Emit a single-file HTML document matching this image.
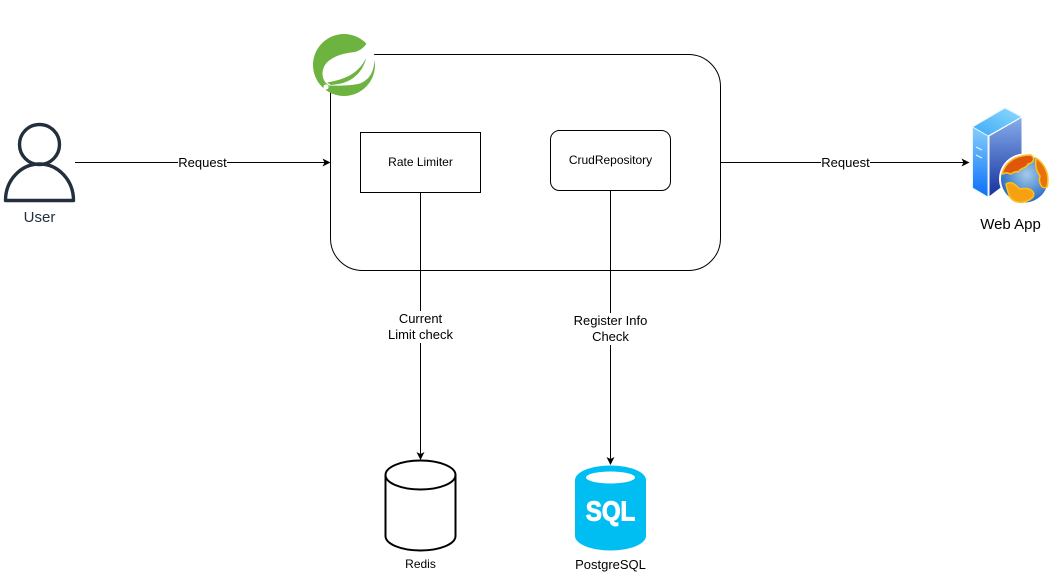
<!DOCTYPE html>
<html>
<head>
<meta charset="utf-8">
<style>
html,body{margin:0;padding:0;background:#fff;width:1050px;height:573px;overflow:hidden}
svg{display:block}
text{font-family:"Liberation Sans",Arial,sans-serif;fill:#000;text-anchor:middle}
</style>
</head>
<body>
<svg width="1050" height="573" viewBox="0 0 1050 573" xmlns="http://www.w3.org/2000/svg">
<defs>
<linearGradient id="front" x1="0" y1="0" x2="0" y2="1"><stop offset="0" stop-color="#86cffb"/><stop offset="1" stop-color="#0a6ffb"/></linearGradient>
<linearGradient id="side" x1="0" y1="0" x2="0" y2="1"><stop offset="0" stop-color="#86aeea"/><stop offset="1" stop-color="#16309f"/></linearGradient>
<linearGradient id="top" x1="0" y1="1" x2="1" y2="0"><stop offset="0" stop-color="#3aa8f8"/><stop offset="1" stop-color="#8fdcfb"/></linearGradient>
<radialGradient id="sea" cx="0.55" cy="0.4" r="0.65"><stop offset="0" stop-color="#a4cbe8"/><stop offset="1" stop-color="#1a62c2"/></radialGradient>
</defs>

<!-- main container -->
<rect x="330.5" y="54.5" width="390" height="216" rx="32" ry="32" fill="#fff" stroke="#000" stroke-width="1"/>

<!-- inner boxes -->
<rect x="360.5" y="132.5" width="120" height="60" fill="#fff" stroke="#000"/>
<text x="420.5" y="166" font-size="12">Rate Limiter</text>
<rect x="550.5" y="130.5" width="120" height="60" rx="9" ry="9" fill="#fff" stroke="#000"/>
<text x="610.5" y="164" font-size="12">CrudRepository</text>

<!-- connectors -->
<path d="M75 162.5H325" stroke="#000" fill="none"/>
<path d="M330.500 162.500L322.500 166.500L324.500 162.500L322.500 158.500Z" fill="#000"/>
<rect x="178" y="155" width="49" height="15" fill="#fff"/>
<text x="202.500" y="167" font-size="13">Request</text>

<path d="M720.500 162.500H964" stroke="#000" fill="none"/>
<path d="M969.500 162.500L961.500 166.500L963.500 162.500L961.500 158.500Z" fill="#000"/>
<rect x="821" y="155" width="49" height="15" fill="#fff"/>
<text x="845.500" y="167" font-size="13">Request</text>

<path d="M420.500 192.500V454" stroke="#000" fill="none"/>
<path d="M420.500 460L416.500 452L420.500 454L424.500 452Z" fill="#000"/>
<rect x="388" y="311" width="65" height="32" fill="#fff"/>
<text x="420.500" y="323" font-size="13">Current</text>
<text x="420.500" y="339" font-size="13">Limit check</text>

<path d="M610.500 190.500V459" stroke="#000" fill="none"/>
<path d="M610.500 465L606.500 457L610.500 459L614.500 457Z" fill="#000"/>
<rect x="574" y="313" width="73" height="32" fill="#fff"/>
<text x="610.500" y="325" font-size="13">Register Info</text>
<text x="610.500" y="341" font-size="13">Check</text>

<!-- spring logo -->
<circle cx="344" cy="65" r="31" fill="#6db33f"/>
<path d="M369 38C371 45 375 52 374.500 60C374 72 369 80 360 83.500C352 85.500 340 86 329 85.500L326 83C321 77 322 70 325 65C331 56 345 53 355 52C362 50 367 45 369 38Z" fill="#fff"/>
<path d="M327 82.500C342 80 358 75 366 58C364 68 357 77 348 81C343 83.500 337 84.500 331 85Z" fill="#6db33f"/>
<circle cx="326" cy="87" r="2.600" fill="#fff"/>

<!-- user -->
<g fill="none" stroke="#232f3e" stroke-width="3.400">
<circle cx="39.500" cy="144.500" r="20"/>
<path d="M5.500 200.500H73.500C73.500 180 58 164 39.500 164C21 164 5.500 180 5.500 200.500Z" stroke-linejoin="round"/>
</g>
<text x="39.500" y="222" font-size="15" style="fill:#232f3e">User</text>

<!-- web app server -->
<path d="M972.500 127L1005 108L1022 117L988 136Z" fill="url(#top)" stroke="#e8f4fd" stroke-width="1"/>
<path d="M972.500 127L988 136V197L972.500 188Z" fill="url(#front)" stroke="#e8f4fd" stroke-width="1"/>
<path d="M989 136L1022 117V172L989 197Z" fill="url(#side)" stroke="#fff" stroke-width="1"/>
<path d="M976 147L982 150M976 155L982 158" stroke="#e6f2fb" stroke-width="1.200"/>
<circle cx="1024.500" cy="179" r="25.500" fill="#fff"/>
<circle cx="1024.500" cy="179" r="23.500" fill="url(#sea)"/>
<path d="M1002 174C1005 162 1016 155 1031 155C1036 159 1033 163 1028 164C1026 169 1021 167 1018 172C1014 170 1012 176 1008 173C1006 172 1004 174 1002 174Z" fill="#e0560c" stroke="#fbbf1e" stroke-width="1.600"/>
<path d="M1036 158C1045 164 1050 175 1047 187C1042 190 1038 183 1040 176C1036 171 1035 165 1036 158Z" fill="#e8720c" stroke="#fbbf1e" stroke-width="1.600"/>
<path d="M1006 184C1012 180 1016 186 1020 189C1029 187 1036 191 1033 197C1026 204 1015 204 1010 197C1008 193 1007 189 1006 184Z" fill="#f7a012" stroke="#fbbf1e" stroke-width="1.600"/>
<text x="1010.500" y="229" font-size="15">Web App</text>

<!-- redis -->
<path d="M385.500 475A35 14.500 0 0 1 455.500 475V536A35 14.500 0 0 1 385.500 536Z" fill="#fff" stroke="#000" stroke-width="2"/>
<path d="M385.500 475A35 14.500 0 0 0 455.500 475" fill="none" stroke="#000" stroke-width="2"/>
<text x="420.500" y="568" font-size="12">Redis</text>

<!-- SQL -->
<path d="M575 480A35.500 14.500 0 0 1 646 480V536A35.500 14.500 0 0 1 575 536Z" fill="#00bef2"/>
<ellipse cx="610.500" cy="477.500" rx="24.500" ry="6" fill="#fff"/>
<text x="0" y="0" transform="translate(610.500 520.500) scale(1 1.160)" font-size="24" font-weight="bold" stroke="#fff" stroke-width="0.900" style="fill:#fff">SQL</text>
<text x="610.500" y="569" font-size="13">PostgreSQL</text>
</svg>
</body>
</html>
